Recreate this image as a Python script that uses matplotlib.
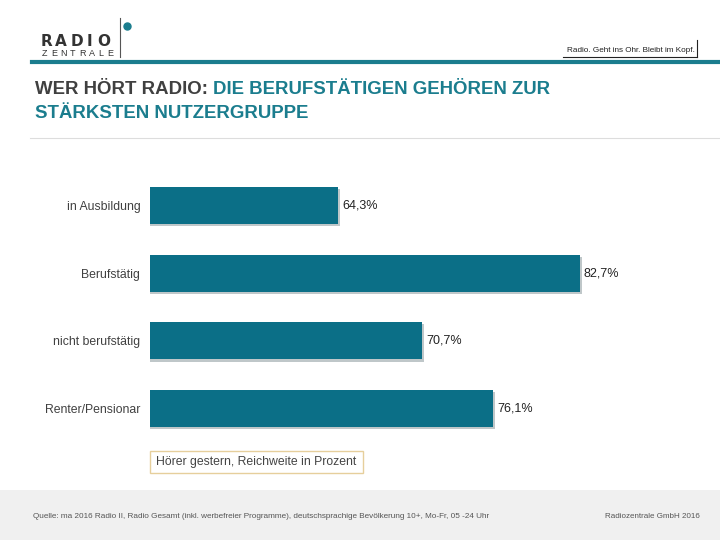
import matplotlib
matplotlib.use("Agg")
import matplotlib.pyplot as plt
import matplotlib.patheffects as pe
from matplotlib.patches import Rectangle, Ellipse
from matplotlib.lines import Line2D

plt.rcParams['font.family'] = ['Liberation Sans', 'DejaVu Sans']

# data
categories = ["in Ausbildung", "Berufstätig", "nicht berufstätig", "Renter/Pensionar"]
values = [64.3, 82.7, 70.7, 76.1]
value_labels = ["64,3%", "82,7%", "70,7%", "76,1%"]

bar_color = "#0b6f87"
teal = "#1b7d8e"
dark = "#404040"

fig = plt.figure(figsize=(7.2, 5.4), dpi=100)

def fx(px):
    return px / 720.0

def fy(py):
    return 1 - py / 540.0

# header: logo, letters spaced out like the wordmark
for ch, cx in zip("RADIO", [46, 61, 77, 89, 104]):
    fig.text(fx(cx), fy(45.5), ch, fontsize=11, fontweight="bold", color="#333333",
             family="DejaVu Sans", va="baseline", ha="center")
for i, ch in enumerate("ZENTRALE"):
    fig.text(fx(44.5 + i * 9.4), fy(55.5), ch, fontsize=6.5, color="#333333",
             va="baseline", ha="center")
fig.add_artist(Line2D([fx(120), fx(120)], [fy(18), fy(57)], color="#555555", lw=0.8))
fig.add_artist(Ellipse((fx(127.5), fy(26.5)), 7 / 720, 7 / 540, color=teal,
                       transform=fig.transFigure))

# tagline
fig.text(fx(695), fy(51), "Radio. Geht ins Ohr. Bleibt im Kopf.", fontsize=5.9,
         color="#222222", ha="right", va="center")
fig.add_artist(Line2D([fx(563), fx(697)], [fy(57), fy(57)], color="#222222", lw=0.8))
fig.add_artist(Line2D([fx(697), fx(697)], [fy(40), fy(57)], color="#222222", lw=0.8))

# teal rule
fig.add_artist(Line2D([fx(32), fx(720)], [fy(62), fy(62)], color=teal, lw=3))

# title
tsize = 13.4
t1 = fig.text(fx(35), fy(94), "WER HÖRT RADIO: ", fontsize=tsize, fontweight="bold",
              color=dark, va="baseline", ha="left")
fig.canvas.draw()
bb = t1.get_window_extent()
fig.text(bb.x1 / 720, fy(94), "DIE BERUFSTÄTIGEN GEHÖREN ZUR", fontsize=tsize,
         fontweight="bold", color=teal, va="baseline", ha="left")
fig.text(fx(35), fy(118), "STÄRKSTEN NUTZERGRUPPE", fontsize=tsize, fontweight="bold",
         color=teal, va="baseline", ha="left")
fig.add_artist(Line2D([fx(30), fx(720)], [fy(138), fy(138)], color="#dddddd", lw=0.8))

# chart
ax = fig.add_axes([fx(150), fy(442.3), fx(676) - fx(150), (442.3 - 171.7) / 540])
ypos = list(range(len(categories)))
bars = ax.barh(ypos, values, height=0.55, color=bar_color, zorder=2)
for b in bars:
    b.set_path_effects([pe.SimplePatchShadow(offset=(1.5, -1.5), alpha=0.25), pe.Normal()])
ax.set_xlim(50, 90)
ax.set_ylim(3.5, -0.5)
for y, v, lab in zip(ypos, values, value_labels):
    ax.text(v + 0.3, y, lab, fontsize=9, color="#222222", va="center", ha="left")
ax.set_yticks(ypos)
ax.set_yticklabels(categories, fontsize=8.8, color=dark)
ax.tick_params(axis="y", length=0, pad=7)
ax.set_xticks([])
for s in ax.spines.values():
    s.set_visible(False)

# legend box
fig.add_artist(Rectangle((fx(150), fy(473)), fx(363) - fx(150), 22 / 540,
                         transform=fig.transFigure, fill=False, edgecolor="#e6cf9c", lw=1))
fig.text(fx(156), fy(462), "Hörer gestern, Reichweite in Prozent", fontsize=8.8,
         color="#444444", va="center", ha="left")

# footer
fig.add_artist(Rectangle((0, 0), 1, 50 / 540, transform=fig.transFigure,
                         facecolor="#f0f0f0", edgecolor="none", zorder=0))
fig.text(fx(33), fy(517), "Quelle: ma 2016 Radio II, Radio Gesamt (inkl. werbefreier Programme), "
         "deutschsprachige Bevölkerung 10+, Mo-Fr, 05 -24 Uhr", fontsize=5.9,
         color="#555555", va="center", ha="left")
fig.text(fx(700), fy(517), "Radiozentrale GmbH 2016", fontsize=5.8, color="#555555",
         va="center", ha="right")

fig.savefig("out.png", dpi=100)
